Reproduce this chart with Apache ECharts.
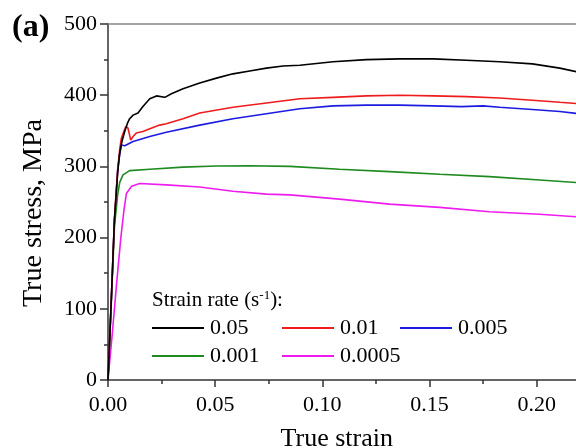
<!DOCTYPE html>
<html><head><meta charset="utf-8">
<script src="https://cdn.jsdelivr.net/npm/echarts@6/dist/echarts.min.js"></script>
<style>html,body{margin:0;padding:0;background:#fff}#c{width:576px;height:448px}</style>
</head><body><div id="c"></div>
<script>
const seriesNames = ['0.05', '0.01', '0.005', '0.001', '0.0005'];
const seriesColors = ['#000000', '#ee1c1c', '#1c1ce0', '#1f8a1f', '#ee1cee'];

const strain005 = [0, 0.0015, 0.003, 0.0045, 0.0054, 0.0065, 0.0078, 0.009, 0.0101, 0.0117, 0.014, 0.0163, 0.0195, 0.0226, 0.0265, 0.0296, 0.035, 0.0428, 0.0506, 0.0583, 0.0661, 0.0739, 0.0817, 0.0895, 0.105, 0.1206, 0.136, 0.1517, 0.1672, 0.1828, 0.198, 0.2108, 0.22];
const stress005 = [0, 110, 225, 290, 318, 335, 349, 360, 367, 372, 375, 384, 395, 399, 397, 402, 409, 417, 424, 430, 434, 438, 441, 442, 447, 450, 451, 451, 449, 447, 444, 438, 432];

const strain001 = [0, 0.0015, 0.003, 0.0045, 0.0055, 0.0062, 0.0075, 0.0083, 0.0093, 0.0100, 0.0106, 0.0117, 0.0132, 0.0163, 0.0195, 0.0241, 0.0272, 0.035, 0.0428, 0.0583, 0.0739, 0.0895, 0.105, 0.1206, 0.136, 0.1517, 0.1672, 0.1828, 0.198, 0.2108, 0.22];
const stress001 = [0, 110, 225, 295, 325, 339, 350, 356, 354, 345, 337, 342, 347, 349, 353, 358, 360, 367, 375, 383, 389, 395, 397, 399, 400, 399, 398, 396, 393, 390, 388];

const strain0005 = [0, 0.0015, 0.003, 0.0045, 0.0051, 0.0062, 0.0078, 0.0117, 0.0195, 0.0272, 0.0428, 0.0583, 0.0739, 0.0895, 0.105, 0.1206, 0.136, 0.1517, 0.165, 0.175, 0.1828, 0.198, 0.2108, 0.22];
const stress0005 = [0, 110, 225, 295, 309, 330, 329, 335, 342, 348, 358, 367, 374, 381, 385, 386, 386, 385, 384, 385, 383, 380, 377, 374];

const strain0001 = [0, 0.0015, 0.003, 0.0045, 0.0055, 0.007, 0.0101, 0.0195, 0.035, 0.0506, 0.066, 0.0849, 0.108, 0.1314, 0.1548, 0.178, 0.2014, 0.22];
const stress0001 = [0, 105, 215, 260, 278, 288, 294, 296, 299, 300.5, 301, 300, 296, 292.6, 289, 285.6, 281, 277];

const strain00005 = [0, 0.002, 0.004, 0.006, 0.0075, 0.0086, 0.011, 0.0148, 0.0272, 0.0428, 0.0583, 0.0739, 0.0849, 0.108, 0.1314, 0.1548, 0.178, 0.2014, 0.22];
const stress00005 = [0, 65, 135, 200, 240, 262, 272, 276, 274, 271, 265, 261, 260, 254, 247, 242.5, 236.4, 232.7, 229];

const xTicks = [0, 0.05, 0.10, 0.15, 0.20];
const yTicks = [0, 100, 200, 300, 400, 500];

const strains = [strain005, strain001, strain0005, strain0001, strain00005];
const stresses = [stress005, stress001, stress0005, stress0001, stress00005];

const FONT = '"Liberation Serif", "Times New Roman", serif';
const legendPos = [[152, 317], [282, 317], [400, 317], [152, 345], [282, 345]];

const chart = echarts.init(document.getElementById('c'), null, {renderer: 'canvas'});
chart.setOption({
  backgroundColor: '#fff',
  animation: false,
  title: [
    {text: '(a)', left: 12, top: 12, padding: 0,
     textStyle: {fontFamily: FONT, fontWeight: 'bold', fontSize: 32, color: '#000'}},
    {text: 'Strain rate (s{sup|-1}):', left: 152, top: 289, padding: 0,
     textStyle: {fontFamily: FONT, fontWeight: 'normal', fontSize: 21, color: '#000',
       rich: {sup: {fontFamily: FONT, fontSize: 13, verticalAlign: 'top', padding: [0, 0, 10, 0], color: '#000'}}}}
  ],
  legend: seriesNames.map((n, i) => ({
    data: [n], left: legendPos[i][0], top: legendPos[i][1], padding: 0,
    icon: 'rect', itemWidth: 52, itemHeight: 2, itemGap: 0,
    textStyle: {fontFamily: FONT, fontSize: 22, color: '#000', padding: [0, 0, 0, 1]}
  })),
  grid: {left: 108, top: 24, width: 471.5, height: 356, containLabel: false, outerBoundsMode: 'none'},
  xAxis: [{
    type: 'value', min: 0, max: 0.22, interval: 0.05,
    name: 'True strain', nameLocation: 'middle', nameGap: 46,
    nameTextStyle: {fontFamily: FONT, fontSize: 26, color: '#000', padding: [0, 14, 0, 0]},
    axisLine: {show: true, onZero: false, lineStyle: {color: '#333', width: 1.5}},
    axisTick: {show: true, inside: false, length: 7, lineStyle: {color: '#333', width: 1.5}},
    minorTick: {show: true, splitNumber: 2, length: 4, lineStyle: {color: '#333', width: 1.5}},
    axisLabel: {fontFamily: FONT, fontSize: 22, color: '#000', margin: 14, showMaxLabel: false,
      formatter: v => v.toFixed(2)},
    splitLine: {show: false}
  }, {
    type: 'value', position: 'top', min: 0, max: 0.22,
    axisLine: {show: true, onZero: false, lineStyle: {color: '#888', width: 1.5}},
    axisTick: {show: false}, axisLabel: {show: false}, splitLine: {show: false}
  }],
  yAxis: [{
    type: 'value', min: 0, max: 500, interval: 100,
    name: 'True stress, MPa', nameLocation: 'middle', nameGap: 60, nameRotate: 90,
    nameTextStyle: {fontFamily: FONT, fontSize: 28, color: '#000', padding: [0, 22, 0, 0]},
    axisLine: {show: true, onZero: false, lineStyle: {color: '#333', width: 1.5}},
    axisTick: {show: true, inside: false, length: 8, lineStyle: {color: '#333', width: 1.5}},
    minorTick: {show: true, splitNumber: 2, length: 4, lineStyle: {color: '#333', width: 1.5}},
    axisLabel: {fontFamily: FONT, fontSize: 22, color: '#000', margin: 11},
    splitLine: {show: false}
  }],
  series: seriesNames.map((n, i) => ({
    name: n, type: 'line', xAxisIndex: 0, yAxisIndex: 0,
    data: strains[i].map((x, j) => [x, stresses[i][j]]),
    showSymbol: false, symbol: 'none', smooth: false,
    lineStyle: {color: seriesColors[i], width: 1.6},
    itemStyle: {color: seriesColors[i]},
    z: 5 - i
  }))
});
</script></body></html>
